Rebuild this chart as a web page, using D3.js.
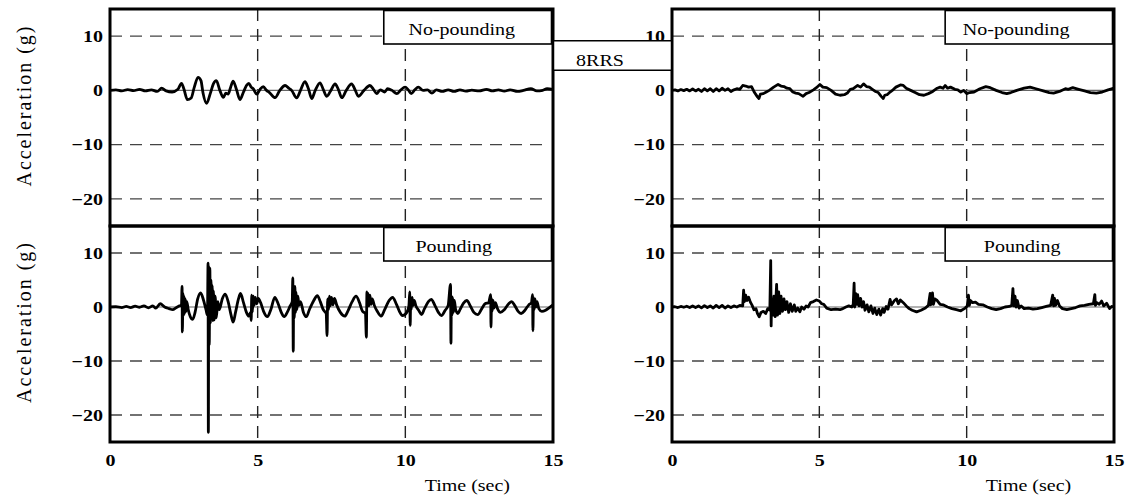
<!DOCTYPE html>
<html><head><meta charset="utf-8">
<script src="https://cdn.jsdelivr.net/npm/d3@7"></script>
<style>
body{margin:0;background:#fff}
svg{display:block}
text{font-family:"Liberation Serif","Times New Roman",serif;fill:#000}
</style>
</head><body>
<svg id="c" width="1132" height="501"></svg>
<script>
// ---- data ----
const xTicks = [0, 5, 10, 15];
const yTicks = [10, 0, -10, -20];
const gridX = [5, 10];
const gridY = [10, -10, -20];
const panelLabels = ["No-pounding", "No-pounding", "Pounding", "Pounding"];
const caseLabel = "8RRS";
const xTitle = "Time (sec)";
const yTitle = "Acceleration (g)";

// top-left: no-pounding (left building)  [time s, accel g]
const noPoundL = [[0,0],[0.2,0.1],[0.4,-0.1],[0.6,0.15],[0.8,-0.05],[1.0,0.2],[1.2,-0.1],[1.4,0.1],[1.6,-0.2],[1.75,0.4],[1.9,-0.1],[2.1,-0.3],[2.3,0.2],[2.42,1.3],[2.5,0.3],[2.62,-1.7],[2.75,-1.4],[2.85,0.5],[2.98,2.4],[3.08,1.8],[3.15,-0.5],[3.27,-2.4],[3.4,-0.5],[3.5,1.2],[3.6,1.8],[3.72,0.0],[3.84,-1.3],[3.92,-0.5],[4.0,-0.7],[4.08,0.5],[4.17,1.7],[4.28,0.2],[4.4,-1.7],[4.52,-0.3],[4.62,0.9],[4.7,1.3],[4.78,0.6],[4.85,0.3],[4.97,-0.7],[5.08,0.2],[5.19,0.7],[5.3,0.0],[5.4,-0.4],[5.59,-1.35],[5.75,0.0],[5.93,0.9],[6.05,0.4],[6.15,0.0],[6.32,-1.4],[6.45,0.0],[6.6,1.6],[6.72,0.3],[6.83,-1.5],[6.95,0.0],[7.11,1.4],[7.22,0.2],[7.34,-1.1],[7.48,0.0],[7.62,1.2],[7.73,0.2],[7.85,-1.35],[8.0,0.0],[8.18,1.2],[8.3,0.1],[8.41,-1.1],[8.6,0.0],[8.8,0.9],[8.92,0.2],[9.03,-0.6],[9.15,0.1],[9.3,-0.3],[9.4,0.3],[9.55,0.0],[9.71,-0.6],[9.85,0.1],[9.99,0.6],[10.1,0.1],[10.2,-0.6],[10.32,0.1],[10.44,0.6],[10.6,0.0],[10.75,0.1],[10.9,-0.5],[11.05,0.1],[11.25,-0.2],[11.45,0.1],[11.65,-0.2],[11.85,0.1],[12.05,-0.15],[12.25,0.05],[12.5,-0.1],[12.75,0.2],[12.95,-0.1],[13.15,0.1],[13.35,-0.15],[13.55,0.1],[13.8,-0.2],[14.0,0.0],[14.25,0.3],[14.45,-0.1],[14.65,0.0],[14.8,0.3],[15.0,0.2]];

// top-right: no-pounding (right building)
const noPoundR = [[0,0],[0.1,0.1],[0.2,-0.1],[0.3,0.15],[0.4,-0.05],[0.5,0.2],[0.6,-0.1],[0.7,0.25],[0.8,-0.1],[0.9,0.2],[1.0,-0.2],[1.1,0.3],[1.2,-0.1],[1.3,0.3],[1.4,-0.2],[1.5,0.3],[1.6,-0.1],[1.7,0.4],[1.8,0.0],[1.9,0.3],[2.0,-0.2],[2.1,0.1],[2.2,0.3],[2.3,0.2],[2.4,0.9],[2.5,0.8],[2.6,0.6],[2.7,0.7],[2.8,-0.4],[2.9,-1.2],[2.95,-1.5],[3.0,-0.7],[3.1,-0.6],[3.2,-0.3],[3.3,0.0],[3.45,0.6],[3.6,1.1],[3.7,0.8],[3.8,0.7],[3.9,0.4],[4.0,0.3],[4.1,-0.3],[4.2,-0.5],[4.3,-0.6],[4.45,-1.1],[4.55,-0.6],[4.65,-0.4],[4.8,0.1],[4.9,0.5],[5.02,1.1],[5.12,0.6],[5.25,0.5],[5.4,0.0],[5.55,-0.7],[5.7,-0.9],[5.85,-0.8],[5.95,-0.5],[6.05,0.2],[6.15,0.3],[6.3,0.9],[6.4,0.6],[6.5,1.2],[6.6,0.7],[6.7,0.6],[6.8,0.2],[6.9,-0.2],[7.0,-0.4],[7.1,-1.1],[7.17,-1.5],[7.22,-0.9],[7.3,-0.8],[7.4,-0.3],[7.5,0.1],[7.6,0.6],[7.75,1.0],[7.85,0.9],[7.95,0.4],[8.1,0.0],[8.25,-0.4],[8.4,-0.8],[8.55,-0.9],[8.7,-0.6],[8.85,-0.2],[9.0,0.4],[9.1,0.6],[9.2,0.4],[9.27,0.9],[9.35,0.4],[9.45,0.6],[9.6,0.2],[9.7,0.1],[9.8,-0.3],[9.9,0.0],[10.0,-0.6],[10.1,-0.4],[10.25,-0.3],[10.45,0.3],[10.65,0.7],[10.8,0.5],[11.0,0.0],[11.2,-0.4],[11.36,-0.6],[11.5,-0.4],[11.7,0.0],[11.95,0.4],[12.15,0.6],[12.35,0.3],[12.6,-0.1],[12.8,-0.4],[12.95,-0.5],[13.15,-0.2],[13.35,0.3],[13.45,0.2],[13.6,0.5],[13.8,0.2],[14.0,-0.1],[14.2,-0.4],[14.4,-0.5],[14.6,-0.3],[14.8,0.1],[15.0,0.4]];

// bottom-left: pounding (left building)
const poundL = [[0,0],[0.2,0.05],[0.4,-0.1],[0.55,0.1],[0.7,-0.1],[0.85,0.15],[1.0,-0.05],[1.15,0.2],[1.3,-0.15],[1.45,0.2],[1.55,-0.2],[1.7,0.6],[1.85,0.0],[2.0,-0.3],[2.12,-0.5],[2.25,-0.1],[2.35,0.2],[2.42,0.3],[2.44,3.8],[2.45,-4.6],[2.47,2.5],[2.49,-1.5],[2.51,2.0],[2.53,-1.2],[2.55,1.5],[2.58,-0.8],[2.6,1.0],[2.65,-0.5],[2.72,-1.8],[2.8,-2.3],[2.88,-1.0],[2.97,1.5],[3.07,2.6],[3.17,1.2],[3.25,-0.5],[3.3,-1.5],[3.32,8.1],[3.33,-23.2],[3.345,7.5],[3.36,-7.0],[3.38,7.2],[3.4,-3.0],[3.42,5.0],[3.44,-2.0],[3.46,4.0],[3.48,-2.5],[3.5,3.0],[3.53,-2.4],[3.56,2.0],[3.6,-2.0],[3.65,1.0],[3.7,-0.5],[3.8,1.5],[3.9,2.4],[4.0,1.0],[4.1,-1.5],[4.17,-2.8],[4.25,-1.0],[4.35,1.5],[4.42,2.5],[4.52,0.8],[4.62,-1.0],[4.7,-1.7],[4.76,-1.0],[4.78,-2.5],[4.8,2.2],[4.82,-1.0],[4.85,2.0],[4.88,0.3],[4.92,1.8],[4.97,0.6],[5.02,1.6],[5.1,0.8],[5.2,-0.8],[5.33,-1.8],[5.45,-0.4],[5.58,1.8],[5.7,0.5],[5.8,-1.0],[5.9,-1.8],[6.0,-1.0],[6.1,0.2],[6.17,1.0],[6.19,5.4],[6.205,-8.2],[6.22,3.5],[6.24,-2.0],[6.26,3.8],[6.28,-1.0],[6.3,2.8],[6.33,-0.5],[6.36,2.0],[6.4,0.3],[6.45,1.0],[6.55,-1.0],[6.65,-1.8],[6.75,-0.5],[6.9,1.2],[7.02,2.1],[7.12,1.0],[7.22,-0.5],[7.32,-1.2],[7.35,-5.3],[7.37,1.5],[7.4,-0.5],[7.43,2.0],[7.46,0.2],[7.5,1.8],[7.55,0.4],[7.6,1.6],[7.68,0.3],[7.8,-1.0],[7.95,-1.7],[8.05,-0.8],[8.2,1.0],[8.33,2.0],[8.45,0.8],[8.55,-0.8],[8.65,-1.2],[8.68,-5.6],[8.7,2.8],[8.72,0.0],[8.74,2.5],[8.77,0.2],[8.8,2.2],[8.84,0.5],[8.88,1.5],[8.95,0.3],[9.05,-0.8],[9.18,-1.7],[9.3,-0.5],[9.45,1.2],[9.57,1.8],[9.7,0.5],[9.8,-0.8],[9.9,-1.6],[10.05,-1.0],[10.12,0.2],[10.15,2.8],[10.165,-3.4],[10.18,1.5],[10.2,-0.5],[10.23,1.8],[10.26,0.3],[10.3,1.2],[10.36,0.2],[10.45,-0.6],[10.55,-1.4],[10.65,-0.3],[10.78,1.0],[10.88,1.4],[11.0,0.3],[11.12,-1.0],[11.22,-1.6],[11.35,-0.6],[11.45,0.3],[11.53,4.2],[11.545,-6.7],[11.56,2.0],[11.58,-1.5],[11.6,1.8],[11.63,-1.0],[11.66,1.2],[11.7,-0.4],[11.78,-1.2],[11.85,-0.5],[11.97,0.7],[12.08,1.2],[12.2,0.2],[12.32,-1.0],[12.45,-1.4],[12.58,-0.4],[12.7,0.6],[12.82,0.8],[12.89,2.3],[12.9,-3.7],[12.92,1.6],[12.94,-0.8],[12.97,1.2],[13.0,-0.2],[13.05,0.8],[13.12,-0.3],[13.22,-1.0],[13.35,-0.5],[13.5,0.6],[13.6,1.0],[13.7,0.3],[13.82,-0.8],[13.92,-1.2],[14.05,-0.6],[14.18,0.4],[14.27,0.8],[14.31,2.3],[14.32,-4.4],[14.34,1.8],[14.36,-0.5],[14.39,1.5],[14.42,0.0],[14.46,1.0],[14.52,-0.3],[14.62,-0.8],[14.75,-0.6],[14.88,-0.1],[15.0,0.4]];

// bottom-right: pounding (right building)
const poundR = [[0,0],[0.1,0.05],[0.2,-0.1],[0.3,0.1],[0.4,-0.05],[0.5,0.15],[0.6,-0.1],[0.7,0.2],[0.8,-0.1],[0.9,0.2],[1.0,-0.15],[1.1,0.25],[1.2,-0.1],[1.3,0.2],[1.4,-0.2],[1.5,0.3],[1.6,-0.1],[1.7,0.3],[1.8,-0.2],[1.9,0.2],[2.0,-0.1],[2.1,0.2],[2.2,0.0],[2.3,0.3],[2.4,0.2],[2.43,3.1],[2.46,1.0],[2.5,2.2],[2.55,1.2],[2.6,1.8],[2.66,0.9],[2.72,0.3],[2.78,-0.5],[2.85,-0.3],[2.9,-1.2],[2.96,-1.8],[3.02,-1.0],[3.1,-0.8],[3.18,-1.2],[3.25,-0.3],[3.32,-0.6],[3.35,8.6],[3.365,-3.5],[3.38,1.5],[3.42,-1.5],[3.46,2.0],[3.5,-1.8],[3.55,4.2],[3.58,-1.5],[3.62,2.8],[3.66,-1.2],[3.7,2.0],[3.75,-0.8],[3.8,1.5],[3.85,-0.5],[3.9,1.0],[3.96,-1.0],[4.02,0.6],[4.08,-0.8],[4.15,0.4],[4.2,-0.8],[4.27,-0.2],[4.34,-0.9],[4.4,0.0],[4.48,-0.4],[4.55,0.2],[4.62,0.0],[4.7,0.8],[4.8,1.0],[4.9,1.3],[5.0,1.1],[5.08,0.6],[5.15,0.5],[5.25,-0.2],[5.4,-0.5],[5.55,-0.4],[5.7,-0.5],[5.8,-0.3],[5.9,0.0],[6.0,0.2],[6.1,0.0],[6.15,0.5],[6.18,4.4],[6.2,0.0],[6.23,2.5],[6.27,0.5],[6.3,2.3],[6.35,0.2],[6.4,1.6],[6.45,0.0],[6.5,1.0],[6.55,-0.6],[6.62,0.4],[6.68,-0.9],[6.75,0.2],[6.82,-1.2],[6.88,-0.2],[6.95,-1.4],[7.02,-0.4],[7.08,-1.5],[7.15,-0.3],[7.2,-1.0],[7.27,0.1],[7.33,-0.4],[7.4,1.4],[7.45,0.4],[7.55,1.2],[7.62,1.5],[7.68,0.6],[7.75,1.3],[7.85,0.8],[7.95,0.2],[8.05,-0.3],[8.15,-0.6],[8.3,-0.9],[8.45,-0.6],[8.6,-0.2],[8.7,0.3],[8.76,2.5],[8.78,0.4],[8.84,2.6],[8.87,0.5],[8.92,1.5],[9.0,1.2],[9.1,0.5],[9.2,0.4],[9.35,0.0],[9.5,-0.3],[9.65,-0.5],[9.8,-0.7],[9.95,-0.2],[10.02,0.2],[10.06,2.2],[10.09,0.3],[10.13,1.2],[10.2,0.8],[10.3,0.9],[10.4,0.5],[10.55,0.4],[10.7,0.0],[10.85,-0.3],[11.0,-0.5],[11.15,-0.3],[11.3,0.0],[11.45,0.1],[11.53,0.3],[11.57,3.4],[11.6,0.2],[11.64,2.0],[11.68,0.0],[11.72,1.2],[11.78,-0.2],[11.85,0.2],[11.95,-0.3],[12.1,-0.2],[12.25,-0.4],[12.4,-0.3],[12.55,-0.1],[12.7,0.1],[12.85,0.3],[12.92,2.2],[12.95,0.2],[12.98,1.6],[13.02,0.3],[13.08,1.2],[13.15,0.2],[13.25,-0.3],[13.4,-0.5],[13.55,-0.3],[13.7,-0.1],[13.85,0.2],[14.0,0.3],[14.15,0.5],[14.3,0.6],[14.35,2.3],[14.37,0.3],[14.42,0.8],[14.5,0.5],[14.58,1.1],[14.65,0.2],[14.75,0.7],[14.85,-0.3],[14.92,0.1],[15.0,0.0]];

// ---- layout ----
const svg = d3.select("#c");
const cols = [{x0:110, x1:553}, {x0:672, x1:1114}];
const rows = [{y0:9, y1:226}, {y0:226, y1:442}];
const STRETCH = 1.25;
const panels = [
  {c:0, r:0, data:noPoundL, label:panelLabels[0], curve:d3.curveMonotoneX, lx:78},
  {c:1, r:0, data:noPoundR, label:panelLabels[1], curve:d3.curveLinear, lx:71},
  {c:0, r:1, data:poundL, label:panelLabels[2], curve:d3.curveMonotoneX, lx:70},
  {c:1, r:1, data:poundR, label:panelLabels[3], curve:d3.curveLinear, lx:77}
];

const stretchText = (sel, k) => sel.each(function(){
  const l = this.getComputedTextLength();
  d3.select(this).attr("textLength", l*k).attr("lengthAdjust","spacingAndGlyphs");
});

panels.forEach(p => {
  const C = cols[p.c], R = rows[p.r];
  const x = d3.scaleLinear().domain([0,15]).range([C.x0, C.x1]);
  const y = d3.scaleLinear().domain([-25,15]).range([R.y1, R.y0]);
  const g = svg.append("g");

  // grid
  g.selectAll(".gy").data(gridY).join("line")
    .attr("x1", C.x0).attr("x2", C.x1 - 6)
    .attr("y1", d=>y(d)).attr("y2", d=>y(d))
    .attr("stroke","#444").attr("stroke-width",1.4).attr("stroke-dasharray","12,8");
  g.selectAll(".gx").data(gridX).join("line")
    .attr("x1", d=>x(d)).attr("x2", d=>x(d))
    .attr("y1", R.y0).attr("y2", R.y1)
    .attr("stroke","#222").attr("stroke-width",1.4).attr("stroke-dasharray","12,8");
  // zero reference
  g.append("line").attr("x1",C.x0).attr("x2",C.x1).attr("y1",y(0)).attr("y2",y(0))
    .attr("stroke","#666").attr("stroke-width",1.2);

  // trace
  const line = d3.line().x(d=>x(d[0])).y(d=>y(d[1])).curve(p.curve);
  g.append("path").datum(p.data).attr("d", line)
    .attr("fill","none").attr("stroke","#000").attr("stroke-width",2.8)
    .attr("stroke-linejoin","round");

  // y axis
  const ya = g.append("g").attr("transform",`translate(${C.x0},0)`)
    .call(d3.axisLeft(y).tickValues(yTicks).tickSize(0).tickPadding(7).tickFormat(d3.format("d")));
  ya.select(".domain").remove();
  ya.selectAll("text").attr("font-size",16).attr("font-weight","bold").call(stretchText, STRETCH);

  // x axis on bottom row
  if (p.r === 1) {
    const xa = g.append("g").attr("transform",`translate(0,${R.y1})`)
      .call(d3.axisBottom(x).tickValues(xTicks).tickSize(0).tickFormat(d3.format("d")));
    xa.select(".domain").remove();
    xa.selectAll("text").attr("font-size",16).attr("font-weight","bold").attr("y",24).attr("dy",null)
      .call(stretchText, STRETCH);
    g.append("text").attr("x", x(12.1)).attr("y", 491).attr("text-anchor","middle")
      .attr("font-size",16).text(xTitle).call(stretchText, STRETCH);
  }

  // y title on left column
  if (p.c === 0) {
    const cy = (R.y0 + R.y1)/2 - 11;
    g.append("text").attr("transform",`translate(31,${cy}) rotate(-90)`)
      .attr("text-anchor","middle").attr("font-size",20)
      .attr("textLength",160).attr("lengthAdjust","spacing").text(yTitle);
  }

  // panel border
  g.append("rect").attr("x",C.x0).attr("y",R.y0).attr("width",C.x1-C.x0).attr("height",R.y1-R.y0)
    .attr("fill","none").attr("stroke","#000").attr("stroke-width",3);

  // label box
  const bx = x(9.27);
  g.append("rect").attr("x",bx).attr("y",R.y0+1.5).attr("width",C.x1-1.5-bx).attr("height",33.5)
    .attr("fill","#fff").attr("stroke","#000").attr("stroke-width",1.6);
  g.append("text").attr("x", bx + p.lx).attr("y", R.y0+26).attr("text-anchor","middle")
    .attr("font-size",16).text(p.label).call(stretchText, STRETCH);
});

// case box between the top panels
svg.append("rect").attr("x",cols[0].x1+1.5).attr("y",40.7).attr("width",cols[1].x0-cols[0].x1-3).attr("height",29.5)
  .attr("fill","#fff").attr("stroke","none");
svg.append("line").attr("x1",cols[0].x1).attr("x2",cols[1].x0).attr("y1",40.7).attr("y2",40.7).attr("stroke","#000").attr("stroke-width",1.6);
svg.append("line").attr("x1",cols[0].x1).attr("x2",cols[1].x0).attr("y1",70.2).attr("y2",70.2).attr("stroke","#000").attr("stroke-width",1.6);
svg.append("text").attr("x",600).attr("y",66).attr("text-anchor","middle").attr("font-size",16)
  .text(caseLabel).call(stretchText, STRETCH);
</script>
</body></html>
